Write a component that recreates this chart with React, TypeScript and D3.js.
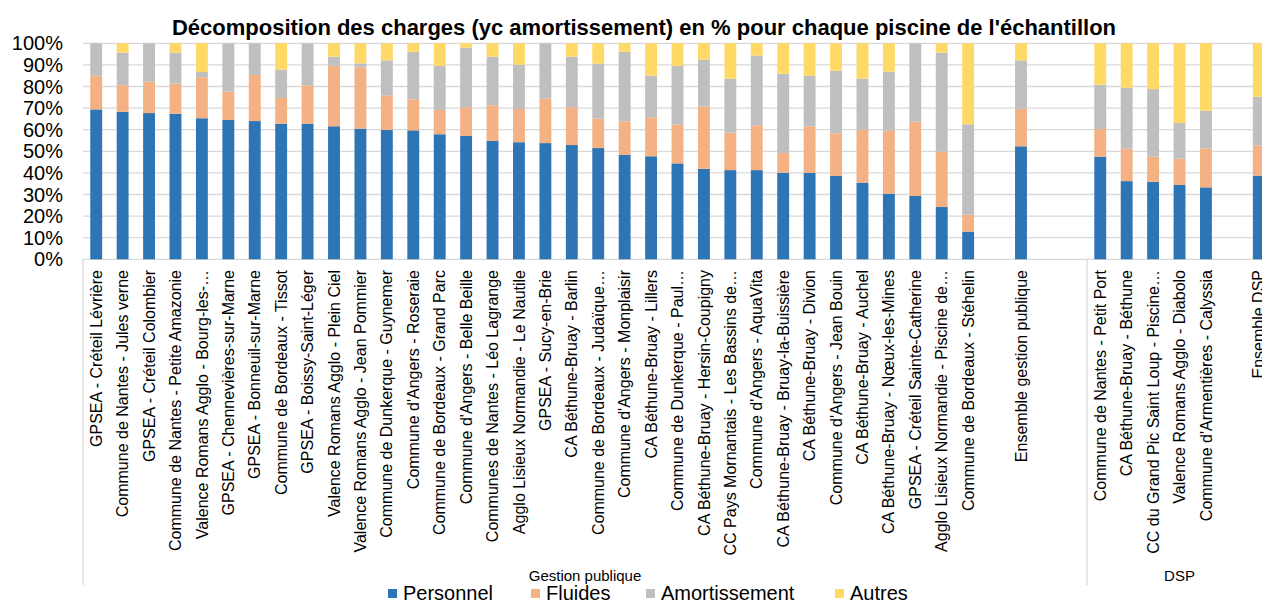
import React from "react";
import * as d3 from "d3";

const categories: string[] = [
  "GPSEA - Créteil Lévrière",
  "Commune de Nantes - Jules verne",
  "GPSEA - Créteil Colombier",
  "Commune de Nantes - Petite Amazonie",
  "Valence Romans Agglo - Bourg-les-…",
  "GPSEA - Chennevières-sur-Marne",
  "GPSEA - Bonneuil-sur-Marne",
  "Commune de Bordeaux - Tissot",
  "GPSEA - Boissy-Saint-Léger",
  "Valence Romans Agglo - Plein Ciel",
  "Valence Romans Agglo - Jean Pommier",
  "Commune de Dunkerque - Guynemer",
  "Commune d'Angers - Roseraie",
  "Commune de Bordeaux - Grand Parc",
  "Commune d'Angers -  Belle Beille",
  "Communes de Nantes - Léo Lagrange",
  "Agglo Lisieux Normandie - Le Nautile",
  "GPSEA - Sucy-en-Brie",
  "CA Béthune-Bruay - Barlin",
  "Commune de Bordeaux - Judaïque…",
  "Commune d'Angers - Monplaisir",
  "CA Béthune-Bruay - Lillers",
  "Commune de Dunkerque - Paul…",
  "CA Béthune-Bruay - Hersin-Coupigny",
  "CC Pays Mornantais - Les Bassins de…",
  "Commune d'Angers - AquaVita",
  "CA Béthune-Bruay - Bruay-la-Buissière",
  "CA Béthune-Bruay - Divion",
  "Commune d'Angers - Jean Bouin",
  "CA Béthune-Bruay - Auchel",
  "CA Béthune-Bruay - Nœux-les-Mines",
  "GPSEA - Créteil Sainte-Catherine",
  "Agglo Lisieux Normandie - Piscine de…",
  "Commune de Bordeaux - Stéhelin",
  "",
  "Ensemble gestion publique",
  "",
  "",
  "Commune de Nantes - Petit Port",
  "CA Béthune-Bruay - Béthune",
  "CC du Grand Pic Saint Loup - Piscine…",
  "Valence Romans Agglo - Diabolo",
  "Commune d'Armentières - Calyssia",
  "",
  "Ensemble DSP",
];

const personnel: (number | null)[] = [
  69.4, 68.3, 67.7, 67.4, 65.3, 64.5, 64.0, 62.8, 62.8, 61.6, 60.5, 59.9, 59.7, 57.9, 57.1, 54.8, 54.2,
  53.8, 52.9, 51.5, 48.3, 47.7, 44.4, 41.9, 41.3, 41.3, 40.1, 40.0, 38.6, 35.5, 30.4, 29.3, 24.2, 12.8,
  null, 52.3, null, null, 47.5, 36.2, 35.9, 34.4, 33.3, null, 38.7,
];
const fluides: (number | null)[] = [
  15.6, 12.3, 14.5, 13.9, 19.0, 13.1, 21.3, 11.9, 17.6, 28.0, 28.4, 16.0, 14.4, 11.2, 13.3, 16.5, 15.4,
  20.6, 17.5, 13.6, 15.6, 17.9, 17.9, 28.9, 17.3, 20.7, 9.1, 21.6, 19.7, 24.5, 29.1, 34.4, 25.6, 7.8,
  null, 17.4, null, null, 12.8, 15.0, 11.6, 12.2, 18.1, null, 13.9,
];
const amortissement: (number | null)[] = [
  15.0, 15.1, 17.8, 14.4, 2.4, 22.4, 14.7, 13.1, 19.6, 4.2, 1.8, 16.2, 22.0, 20.5, 27.6, 22.5, 20.5,
  25.6, 23.4, 25.5, 32.2, 19.4, 27.3, 21.6, 25.0, 32.3, 36.7, 23.4, 29.0, 23.6, 27.4, 36.3, 45.9, 41.9,
  null, 22.4, null, null, 20.5, 28.2, 31.3, 16.5, 17.4, null, 22.7,
];
const autres: (number | null)[] = [
  0, 4.3, 0, 4.3, 13.3, 0, 0, 12.2, 0, 6.2, 9.3, 7.9, 3.9, 10.4, 2.0, 6.2, 9.9,
  0, 6.2, 9.4, 3.9, 15.0, 10.4, 7.6, 16.4, 5.7, 14.1, 15.0, 12.7, 16.4, 13.1, 0, 4.3, 37.5,
  null, 7.9, null, null, 19.2, 20.6, 21.2, 36.9, 31.2, null, 24.7,
];

const seriesNames = ["Personnel", "Fluides", "Amortissement", "Autres"];
const seriesColors = ["#2E75B6", "#F4B183", "#BFBFBF", "#FFD966"];
const yTicks = [0, 10, 20, 30, 40, 50, 60, 70, 80, 90, 100];
const groups = [
  { name: "Gestion publique", start: 0, end: 38 },
  { name: "DSP", start: 38, end: 45 },
];
const title = "Décomposition des charges (yc amortissement) en % pour chaque piscine de l'échantillon";

const W = 1262;
const H = 604;
const FONT = "'Liberation Sans', Arial, Helvetica, sans-serif";

export default function App() {
  const idx = categories.map((_, i) => String(i));
  const x = d3.scaleBand<string>().domain(idx).range([83, 1272]).paddingInner(0.55).paddingOuter(0.275);
  const y = d3.scaleLinear().domain([0, 100]).range([259.3, 43.3]);
  const step = x.step();
  const x0 = x.range()[0];

  const table = categories.map((c, i) => ({
    i: String(i),
    empty: personnel[i] == null,
    Personnel: personnel[i] ?? 0,
    Fluides: fluides[i] ?? 0,
    Amortissement: amortissement[i] ?? 0,
    Autres: autres[i] ?? 0,
  }));
  const stacked = d3.stack<any>().keys(seriesNames)(table);

  const legendX = [403, 546, 661, 850];

  return (
    <svg
      width={W}
      height={H}
      style={{ position: "absolute", left: 0, top: 0, background: "#fff" }}
      fontFamily={FONT}
    >
      <rect x={0} y={0} width={W} height={H} fill="#fff" />
      <text x={644} y={35} textAnchor="middle" fontSize={22} fontWeight="bold" fill="#000">
        {title}
      </text>
      {yTicks.map((t) => (
        <g key={t}>
          <line x1={83} x2={1272} y1={y(t)} y2={y(t)} stroke="#D9D9D9" strokeWidth={1.3} />
          <text x={63} y={y(t)} dy="0.35em" textAnchor="end" fontSize={20} fill="#000">
            {t}%
          </text>
        </g>
      ))}
      {stacked.map((s, si) => (
        <g key={s.key} fill={seriesColors[si]}>
          {s.map((d, j) =>
            table[j].empty || d[1] - d[0] <= 0 ? null : (
              <rect
                key={j}
                x={x(table[j].i)}
                width={x.bandwidth()}
                y={y(Math.min(d[1], 100))}
                height={y(d[0]) - y(Math.min(d[1], 100))}
              />
            )
          )}
        </g>
      ))}
      {categories.map((c, i) => (
        <text
          key={i}
          transform={`translate(${(x(String(i)) as number) + x.bandwidth() / 2},270) rotate(-90)`}
          textAnchor="end"
          dy="0.35em"
          fontSize={16}
          fill="#000"
        >
          {c}
        </text>
      ))}
      {groups.map((g, gi) => {
        const a = x0 + g.start * step;
        const b = x0 + g.end * step;
        return (
          <g key={g.name}>
            <line x1={a} x2={a} y1={259.3} y2={585} stroke="#D9D9D9" strokeWidth={1.3} />
            {gi === groups.length - 1 ? (
              <line x1={b} x2={b} y1={259.3} y2={585} stroke="#D9D9D9" strokeWidth={1.3} />
            ) : null}
            <text x={(a + b) / 2} y={581} textAnchor="middle" fontSize={15} fill="#000">
              {g.name}
            </text>
          </g>
        );
      })}
      {seriesNames.map((n, i) => (
        <g key={n}>
          <rect x={legendX[i] - 15} y={589} width={9} height={9} fill={seriesColors[i]} />
          <text x={legendX[i]} y={600} fontSize={20} fill="#000">
            {n}
          </text>
        </g>
      ))}
    </svg>
  );
}
